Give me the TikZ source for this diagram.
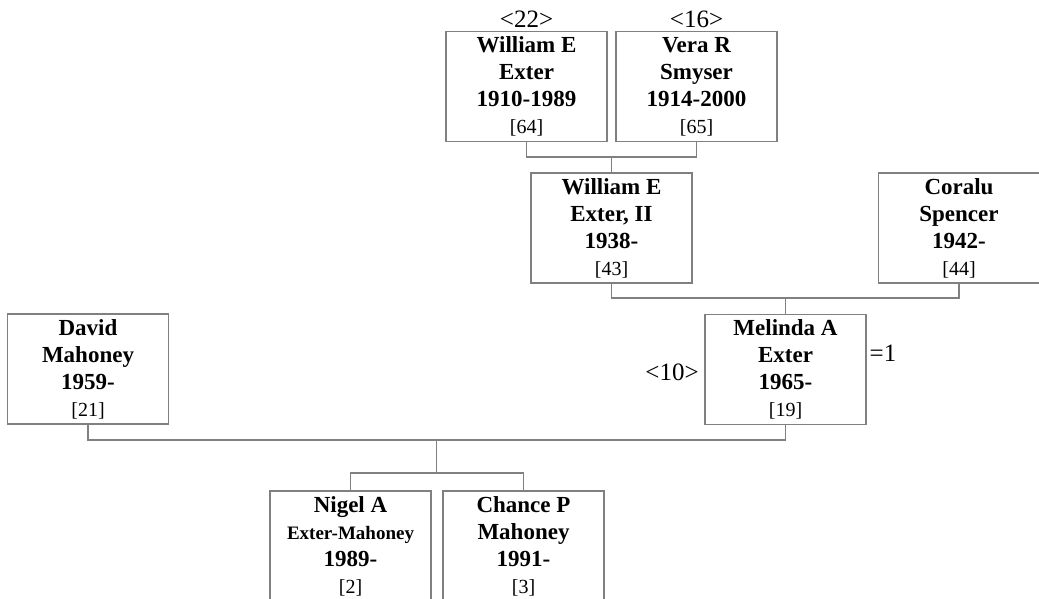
\documentclass[tikz,border=0pt]{standalone}
\usepackage{fontspec}
\setmainfont{Liberation Serif}
\definecolor{linegray}{RGB}{128,128,128}
\newcommand{\idn}[1]{{\fontsize{20}{27}\selectfont\mdseries[#1]}}
\newcommand{\smallname}[1]{{\fontsize{19}{27}\selectfont #1}}
\begin{document}
\begin{tikzpicture}[x=1pt,y=-1pt,
  person/.style={draw=linegray, line width=1.2pt, minimum width=161pt, minimum height=110pt,
    inner sep=0pt, align=center, font=\fontsize{23}{27}\selectfont\bfseries},
  link/.style={draw=linegray, line width=1.1pt},
  note/.style={font=\fontsize{25}{27}\selectfont, inner sep=0pt}]
\useasboundingbox (0,0) rectangle (1039,598);
% persons
\node[person] (p64) at (526.5,86.5) {William E\\Exter\\1910-1989\\\idn{64}};
\node[person] (p65) at (696.5,86.5) {Vera R\\Smyser\\1914-2000\\\idn{65}};
\node[person] (p43) at (611.5,228) {William E\\Exter, II\\1938-\\\idn{43}};
\node[person] (p44) at (959,228) {Coralu\\Spencer\\1942-\\\idn{44}};
\node[person] (p19) at (785.5,369.5) {Melinda A\\Exter\\1965-\\\idn{19}};
\node[person] (p21) at (88,369) {David\\Mahoney\\1959-\\\idn{21}};
\node[person] (p2) at (350.5,546) {Nigel A\\\smallname{Exter-Mahoney}\\1989-\\\idn{2}};
\node[person] (p3) at (523.5,546) {Chance P\\Mahoney\\1991-\\\idn{3}};
% notes
\node[note] (n22) at (526.5,19) {<22>};
\node[note] (n16) at (696.5,19) {<16>};
\node[note] (n10) at (672,372) {<10>};
\node[note] (n1) at (883,353) {=1};
% junctions
\coordinate (j1) at (611.5,157);
\coordinate (j2) at (785.5,298);
\coordinate (j3) at (436.5,440);
\coordinate (j4) at (436.5,473);
% connectors
\draw[link] (p64.south) |- (j1) -| (p65.south);
\draw[link] (j1) -- (p43.north);
\draw[link] (p43.south) |- (j2) -| (p44.south);
\draw[link] (j2) -- (p19.north);
\draw[link] (p21.south) |- (j3) -| (p19.south);
\draw[link] (j3) -- (j4);
\draw[link] (p2.north) |- (j4) -| (p3.north);
\end{tikzpicture}
\end{document}
